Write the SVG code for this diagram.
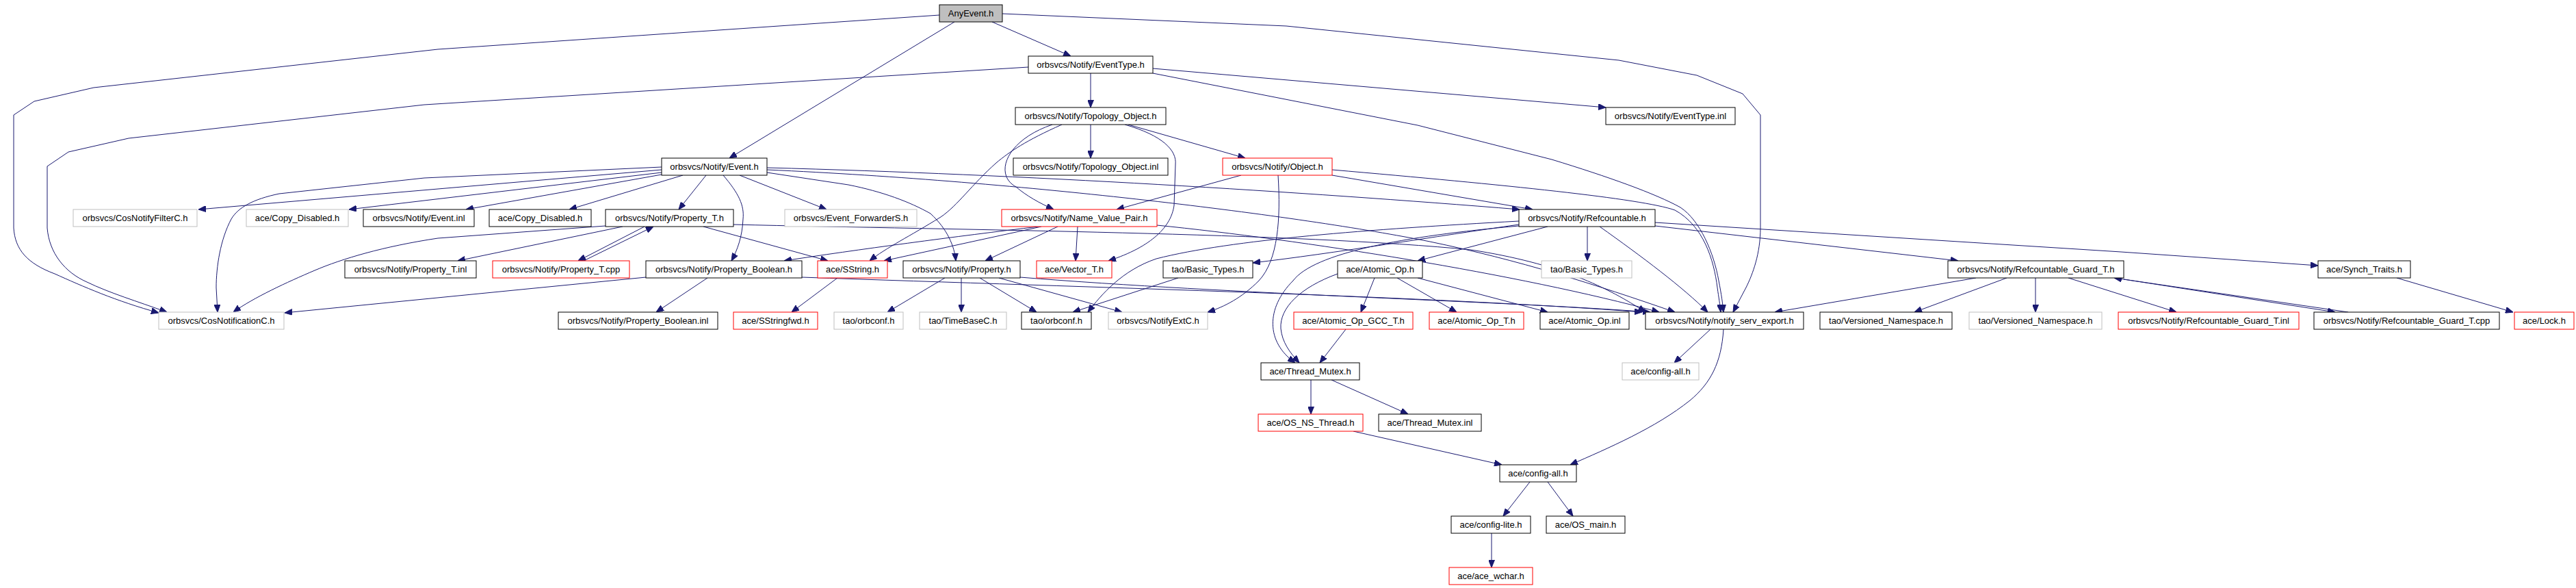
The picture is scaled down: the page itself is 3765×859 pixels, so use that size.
<svg xmlns="http://www.w3.org/2000/svg" width="3765" height="859" viewBox="0 0 3765 859">
<style>
rect{fill:#fff;stroke-width:1}
.k{stroke:#000}
.g{stroke:#bfbfbf}
.r{stroke:#ff0000}
.root{fill:#bfbfbf;stroke:#000}
text{font-family:"Liberation Sans",Arial,sans-serif;font-size:13px;fill:#000;text-anchor:middle}
#edges path{fill:none;stroke:#191970;stroke-width:1;marker-end:url(#a)}
</style>
<defs>
<marker id="a" markerWidth="11" markerHeight="9" refX="11" refY="4.5" orient="auto" markerUnits="userSpaceOnUse">
<path d="M0,0 L11,4.5 L0,9 z" fill="#191970" stroke="#191970" stroke-width="1"/>
</marker>
</defs>
<rect x="0" y="0" width="3765" height="859" style="fill:#fff;stroke:none"/>
<g id="edges">
<path d="M1450,32 L1565,82"/>
<path d="M1395,32 L1066,231"/>
<path d="M1373,22 L640,72 L137,128 L50,148 L20,168 L20,333 C22,365 40,385 80,400 C120,418 170,440 232,457"/>
<path d="M1503,98 L620,153 L188,202 L100,222 L69,243 L69,333 C72,370 95,398 127,412 C160,428 200,440 244,456"/>
<path d="M1594,107 L1594,157"/>
<path d="M1685,100 L2347,157"/>
<path d="M1685,107 L2072,183 L2268,233 C2350,258 2420,283 2456,303 C2485,322 2505,370 2512,410 C2516,430 2518,445 2519,456"/>
<path d="M1594,182 L1594,231"/>
<path d="M1649,182 L1820,231"/>
<path d="M1538,182 C1470,205 1452,255 1485,273 C1500,286 1520,297 1540,306"/>
<path d="M1552,182 C1500,205 1475,222 1456,238 C1420,270 1400,300 1375,317 C1330,345 1295,362 1271,381"/>
<path d="M1644,182 C1700,198 1720,220 1718,240 L1716,300 C1712,330 1685,360 1620,381"/>
<path d="M967,244 L620,260 L408,283 C370,291 348,303 338,320 C322,350 316,390 316,420 L318,456"/>
<path d="M967,248 L290,306"/>
<path d="M967,252 L510,306"/>
<path d="M967,255 L681,306"/>
<path d="M998,256 L832,306"/>
<path d="M1032,256 L992,306"/>
<path d="M1057,256 C1080,283 1088,300 1086,320 C1085,345 1078,365 1069,381"/>
<path d="M1081,256 L1208,306"/>
<path d="M1121,252 L1240,270 C1290,280 1330,295 1360,312 C1385,335 1395,360 1397,381"/>
<path d="M1121,245 C1500,255 1900,280 2221,306"/>
<path d="M1121,248 C1500,265 1900,315 2090,353 C2220,380 2330,415 2448,456"/>
<path d="M910,331 L669,381"/>
<path d="M942,331 L845,381"/>
<path d="M853,381 L955,331"/>
<path d="M885,330 L640,348 C560,360 500,378 460,395 C420,412 370,435 341,456"/>
<path d="M1028,331 L1210,381"/>
<path d="M1072,328 C1400,336 1900,340 2150,365 C2280,385 2350,420 2405,456"/>
<path d="M1034,406 L959,456"/>
<path d="M944,405 L416,457"/>
<path d="M1172,405 C1600,420 2100,433 2400,456"/>
<path d="M1224,406 L1157,456"/>
<path d="M1518,331 C1400,345 1250,365 1146,381"/>
<path d="M1522,331 L1292,381"/>
<path d="M1546,331 L1440,381"/>
<path d="M1575,331 L1572,381"/>
<path d="M1691,329 C1900,350 2220,400 2425,456"/>
<path d="M1381,406 L1297,456"/>
<path d="M1405,406 L1405,456"/>
<path d="M1432,406 L1515,456"/>
<path d="M1460,406 L1640,456"/>
<path d="M1491,405 C1800,430 2200,440 2412,456"/>
<path d="M1722,406 L1568,456"/>
<path d="M2220,323 C2000,335 1800,350 1690,378 C1640,395 1610,430 1590,456"/>
<path d="M2220,328 C2100,345 1950,370 1831,384"/>
<path d="M2320,331 L2320,381"/>
<path d="M2262,331 L2072,381"/>
<path d="M2220,330 C2050,345 1920,370 1890,410 C1850,450 1850,500 1893,530"/>
<path d="M1955,400 C1900,420 1870,450 1872,480 C1874,500 1885,515 1899,530"/>
<path d="M2338,331 C2400,375 2460,420 2496,456"/>
<path d="M2419,330 L2862,381"/>
<path d="M2419,325 L3100,368 L3388,388"/>
<path d="M2009,406 L1989,456"/>
<path d="M2042,406 L2129,456"/>
<path d="M2072,406 L2262,456"/>
<path d="M1814,256 L1632,306"/>
<path d="M1947,256 L2240,306"/>
<path d="M1947,248 C2200,270 2400,290 2448,307 C2490,330 2505,380 2510,420 C2512,435 2514,445 2515,456"/>
<path d="M1868,256 C1872,320 1868,380 1840,410 C1815,435 1790,448 1765,456"/>
<path d="M2888,406 L2594,456"/>
<path d="M2933,406 L2798,456"/>
<path d="M2975,406 L2975,456"/>
<path d="M3023,406 L3181,456"/>
<path d="M3104,408 L3413,456"/>
<path d="M3432,456 L3090,406"/>
<path d="M3503,406 L3673,456"/>
<path d="M1916,555 L1916,605"/>
<path d="M1946,555 L2058,605"/>
<path d="M1978,630 L2195,679"/>
<path d="M2500,481 L2447,530"/>
<path d="M2519,481 C2516,530 2500,560 2470,585 C2420,625 2350,655 2295,679"/>
<path d="M2236,704 L2197,754"/>
<path d="M2262,704 L2299,754"/>
<path d="M2180,779 L2180,829"/>
<path d="M1967,481 L1929,530"/>
<path d="M1465,20 L1880,38 L2366,88 L2480,110 L2547,137 L2573,168 L2573,333 C2573,370 2562,400 2552,420 L2533,456"/>
</g>
<g id="n0"><rect class="root" x="1373" y="7" width="92" height="25"/><text x="1419" y="24">AnyEvent.h</text></g>
<g id="n1"><rect class="k" x="1503" y="82" width="182" height="25"/><text x="1594" y="99">orbsvcs/Notify/EventType.h</text></g>
<g id="n2"><rect class="k" x="2347" y="157" width="189" height="25"/><text x="2441.5" y="174">orbsvcs/Notify/EventType.inl</text></g>
<g id="n3"><rect class="k" x="1484" y="157" width="220" height="25"/><text x="1594" y="174">orbsvcs/Notify/Topology_Object.h</text></g>
<g id="n4"><rect class="k" x="967" y="231" width="154" height="25"/><text x="1044" y="248">orbsvcs/Notify/Event.h</text></g>
<g id="n5"><rect class="k" x="1481" y="231" width="226" height="25"/><text x="1594" y="248">orbsvcs/Notify/Topology_Object.inl</text></g>
<g id="n6"><rect class="r" x="1787" y="231" width="160" height="25"/><text x="1867" y="248">orbsvcs/Notify/Object.h</text></g>
<g id="n7"><rect class="g" x="107" y="306" width="181" height="25"/><text x="197.5" y="323">orbsvcs/CosNotifyFilterC.h</text></g>
<g id="n8"><rect class="g" x="360" y="306" width="149" height="25"/><text x="434.5" y="323">ace/Copy_Disabled.h</text></g>
<g id="n9"><rect class="k" x="531" y="306" width="162" height="25"/><text x="612" y="323">orbsvcs/Notify/Event.inl</text></g>
<g id="n10"><rect class="k" x="715" y="306" width="149" height="25"/><text x="789.5" y="323">ace/Copy_Disabled.h</text></g>
<g id="n11"><rect class="k" x="885" y="306" width="187" height="25"/><text x="978.5" y="323">orbsvcs/Notify/Property_T.h</text></g>
<g id="n12"><rect class="g" x="1147" y="306" width="193" height="25"/><text x="1243.5" y="323">orbsvcs/Event_ForwarderS.h</text></g>
<g id="n13"><rect class="r" x="1464" y="306" width="227" height="25"/><text x="1577.5" y="323">orbsvcs/Notify/Name_Value_Pair.h</text></g>
<g id="n14"><rect class="k" x="2220" y="306" width="199" height="25"/><text x="2319.5" y="323">orbsvcs/Notify/Refcountable.h</text></g>
<g id="n15"><rect class="k" x="504" y="381" width="192" height="25"/><text x="600" y="398">orbsvcs/Notify/Property_T.inl</text></g>
<g id="n16"><rect class="r" x="720" y="381" width="200" height="25"/><text x="820" y="398">orbsvcs/Notify/Property_T.cpp</text></g>
<g id="n17"><rect class="k" x="944" y="381" width="228" height="25"/><text x="1058" y="398">orbsvcs/Notify/Property_Boolean.h</text></g>
<g id="n18"><rect class="r" x="1195" y="381" width="102" height="25"/><text x="1246" y="398">ace/SString.h</text></g>
<g id="n19"><rect class="k" x="1320" y="381" width="171" height="25"/><text x="1405.5" y="398">orbsvcs/Notify/Property.h</text></g>
<g id="n20"><rect class="r" x="1515" y="381" width="110" height="25"/><text x="1570" y="398">ace/Vector_T.h</text></g>
<g id="n21"><rect class="k" x="1700" y="381" width="131" height="25"/><text x="1765.5" y="398">tao/Basic_Types.h</text></g>
<g id="n22"><rect class="k" x="1955" y="381" width="124" height="25"/><text x="2017" y="398">ace/Atomic_Op.h</text></g>
<g id="n23"><rect class="g" x="2253" y="381" width="132" height="25"/><text x="2319" y="398">tao/Basic_Types.h</text></g>
<g id="n24"><rect class="k" x="2847" y="381" width="257" height="25"/><text x="2975.5" y="398">orbsvcs/Notify/Refcountable_Guard_T.h</text></g>
<g id="n25"><rect class="k" x="3388" y="381" width="135" height="25"/><text x="3455.5" y="398">ace/Synch_Traits.h</text></g>
<g id="n26"><rect class="g" x="232" y="456" width="183" height="25"/><text x="323.5" y="473">orbsvcs/CosNotificationC.h</text></g>
<g id="n27"><rect class="k" x="816" y="456" width="233" height="25"/><text x="932.5" y="473">orbsvcs/Notify/Property_Boolean.inl</text></g>
<g id="n28"><rect class="r" x="1072" y="456" width="123" height="25"/><text x="1133.5" y="473">ace/SStringfwd.h</text></g>
<g id="n29"><rect class="g" x="1219" y="456" width="101" height="25"/><text x="1269.5" y="473">tao/orbconf.h</text></g>
<g id="n30"><rect class="g" x="1344" y="456" width="127" height="25"/><text x="1407.5" y="473">tao/TimeBaseC.h</text></g>
<g id="n31"><rect class="k" x="1493" y="456" width="102" height="25"/><text x="1544" y="473">tao/orbconf.h</text></g>
<g id="n32"><rect class="g" x="1620" y="456" width="145" height="25"/><text x="1692.5" y="473">orbsvcs/NotifyExtC.h</text></g>
<g id="n33"><rect class="r" x="1891" y="456" width="174" height="25"/><text x="1978" y="473">ace/Atomic_Op_GCC_T.h</text></g>
<g id="n34"><rect class="r" x="2089" y="456" width="138" height="25"/><text x="2158" y="473">ace/Atomic_Op_T.h</text></g>
<g id="n35"><rect class="k" x="2251" y="456" width="130" height="25"/><text x="2316" y="473">ace/Atomic_Op.inl</text></g>
<g id="n36"><rect class="k" x="2405" y="456" width="231" height="25"/><text x="2520.5" y="473">orbsvcs/Notify/notify_serv_export.h</text></g>
<g id="n37"><rect class="k" x="2660" y="456" width="193" height="25"/><text x="2756.5" y="473">tao/Versioned_Namespace.h</text></g>
<g id="n38"><rect class="g" x="2878" y="456" width="194" height="25"/><text x="2975" y="473">tao/Versioned_Namespace.h</text></g>
<g id="n39"><rect class="r" x="3096" y="456" width="264" height="25"/><text x="3228" y="473">orbsvcs/Notify/Refcountable_Guard_T.inl</text></g>
<g id="n40"><rect class="k" x="3382" y="456" width="271" height="25"/><text x="3517.5" y="473">orbsvcs/Notify/Refcountable_Guard_T.cpp</text></g>
<g id="n41"><rect class="r" x="3675" y="456" width="87" height="25"/><text x="3718.5" y="473">ace/Lock.h</text></g>
<g id="n42"><rect class="k" x="1843" y="530" width="144" height="25"/><text x="1915" y="547">ace/Thread_Mutex.h</text></g>
<g id="n43"><rect class="g" x="2371" y="530" width="112" height="25"/><text x="2427" y="547">ace/config-all.h</text></g>
<g id="n44"><rect class="r" x="1839" y="605" width="153" height="25"/><text x="1915.5" y="622">ace/OS_NS_Thread.h</text></g>
<g id="n45"><rect class="k" x="2015" y="605" width="150" height="25"/><text x="2090" y="622">ace/Thread_Mutex.inl</text></g>
<g id="n46"><rect class="k" x="2192" y="679" width="112" height="25"/><text x="2248" y="696">ace/config-all.h</text></g>
<g id="n47"><rect class="k" x="2121" y="754" width="116" height="25"/><text x="2179" y="771">ace/config-lite.h</text></g>
<g id="n48"><rect class="k" x="2260" y="754" width="115" height="25"/><text x="2317.5" y="771">ace/OS_main.h</text></g>
<g id="n49"><rect class="r" x="2118" y="829" width="122" height="25"/><text x="2179" y="846">ace/ace_wchar.h</text></g>
</svg>
